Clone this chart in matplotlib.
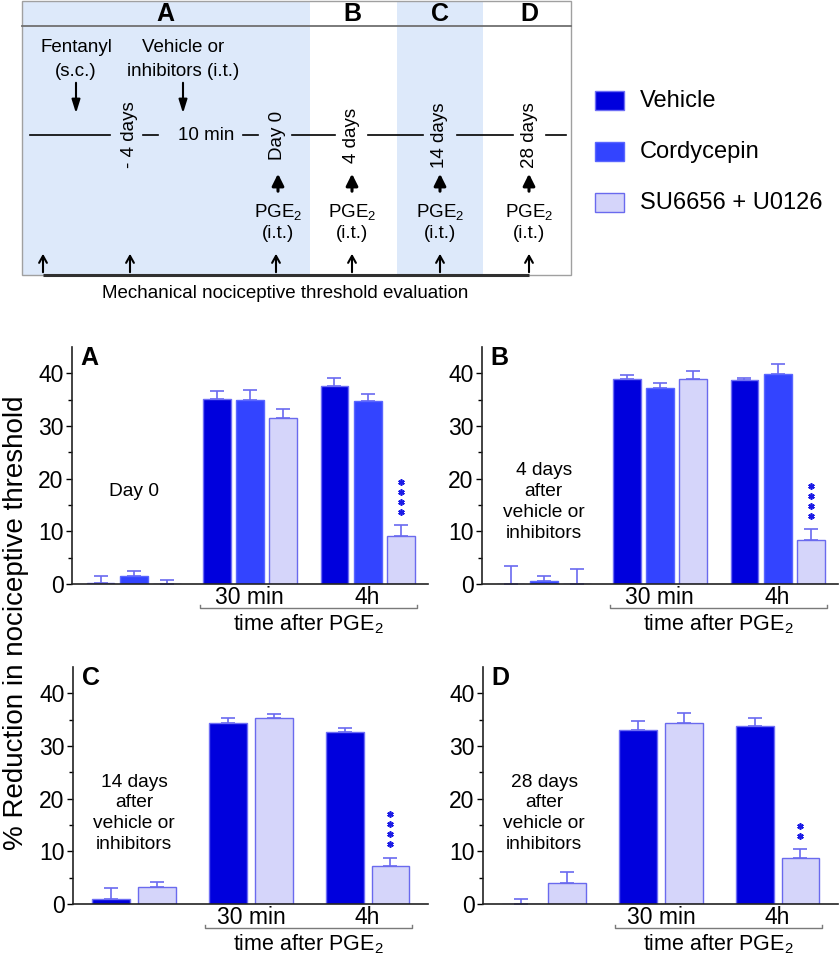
import numpy as np
import matplotlib
matplotlib.use("Agg")
import matplotlib.pyplot as plt
from matplotlib.patches import Rectangle
from matplotlib.transforms import blended_transform_factory

plt.rcParams['font.family'] = ['Liberation Sans', 'DejaVu Sans']
plt.rcParams['mathtext.fontset'] = 'custom'
plt.rcParams['mathtext.rm'] = 'Liberation Sans'
plt.rcParams['mathtext.it'] = 'Liberation Sans:italic'

# treatment groups and styles
treatments = ["Vehicle", "Cordycepin", "SU6656 + U0126"]
fill = {"Vehicle": "#0000dd", "Cordycepin": "#3344ff", "SU6656 + U0126": "#d5d5fa"}
edge = {"Vehicle": "#6e6ef5", "Cordycepin": "#5a66ff", "SU6656 + U0126": "#6a6aee"}
err_color = "#6a6af0"
timepoints = ["baseline", "30 min", "4h"]

# panel A - day 0
A_vehicle = [0.1, 35.2, 37.6]
A_vehicle_err = [1.5, 1.4, 1.6]
A_cordy = [1.5, 34.9, 34.8]
A_cordy_err = [1.0, 2.0, 1.2]
A_su = [0.05, 31.5, 9.2]
A_su_err = [0.65, 1.8, 2.0]

# panel B - 4 days
B_vehicle = [0.0, 39.0, 38.7]
B_vehicle_err = [3.5, 0.6, 0.5]
B_cordy = [0.6, 37.3, 39.8]
B_cordy_err = [0.9, 0.9, 1.9]
B_su = [0.0, 38.9, 8.4]
B_su_err = [2.9, 1.6, 2.1]

# panel C - 14 days
C_vehicle = [0.9, 34.4, 32.7]
C_vehicle_err = [2.1, 0.9, 0.7]
C_su = [3.2, 35.3, 7.3]
C_su_err = [0.9, 0.8, 1.5]

# panel D - 28 days
D_vehicle = [0.0, 33.1, 33.8]
D_vehicle_err = [1.0, 1.6, 1.6]
D_su = [4.0, 34.3, 8.7]
D_su_err = [2.0, 2.0, 1.8]

# number of significance stars over the 4h SU6656 + U0126 bar
stars = {"A": 4, "B": 4, "C": 4, "D": 2}

panels = [
    ("A", {"Vehicle": (A_vehicle, A_vehicle_err), "Cordycepin": (A_cordy, A_cordy_err),
           "SU6656 + U0126": (A_su, A_su_err)}, "Day 0"),
    ("B", {"Vehicle": (B_vehicle, B_vehicle_err), "Cordycepin": (B_cordy, B_cordy_err),
           "SU6656 + U0126": (B_su, B_su_err)}, "4 days\nafter\nvehicle or\ninhibitors"),
    ("C", {"Vehicle": (C_vehicle, C_vehicle_err), "SU6656 + U0126": (C_su, C_su_err)},
     "14 days\nafter\nvehicle or\ninhibitors"),
    ("D", {"Vehicle": (D_vehicle, D_vehicle_err), "SU6656 + U0126": (D_su, D_su_err)},
     "28 days\nafter\nvehicle or\ninhibitors"),
]

W, H = 839, 966
fig = plt.figure(figsize=(W / 100, H / 100), dpi=100)

# ---------- schematic (pixel coordinates) ----------
ax0 = fig.add_axes([0, 0, 1, 1])
ax0.set_xlim(0, W)
ax0.set_ylim(H, 0)
ax0.axis('off')

ax0.add_patch(Rectangle((22, 1), 288, 274, fc='#dde9fa', ec='none'))
ax0.add_patch(Rectangle((397, 1), 86, 274, fc='#dde9fa', ec='none'))
ax0.add_patch(Rectangle((22, 1), 549, 274, fill=False, ec='#a0a0a0', lw=1))
ax0.plot([22, 571], [26, 26], color='#707070', lw=1.3)

fs = 13.5
cols = {"A": 165, "B": 352, "C": 440, "D": 529}
for k, xc in cols.items():
    ax0.text(xc, 14, k, ha='center', va='center', fontsize=18, fontweight='bold')

ax0.text(76, 48, "Fentanyl", ha='center', va='center', fontsize=fs)
ax0.text(76, 72, "(s.c.)", ha='center', va='center', fontsize=fs)
ax0.text(183, 48, "Vehicle or", ha='center', va='center', fontsize=fs)
ax0.text(183, 72, "inhibitors (i.t.)", ha='center', va='center', fontsize=fs)
for xa in [76, 183]:
    ax0.annotate('', xy=(xa, 116), xytext=(xa, 80),
                 arrowprops=dict(arrowstyle='-|>,head_width=0.25,head_length=0.8', lw=1.5, color='k'))

for x0, x1 in [(30, 110), (143, 158), (243, 258), (292, 335), (368, 423), (457, 513), (546, 566)]:
    ax0.plot([x0, x1], [135, 135], color='k', lw=1.2)
ax0.text(206, 135, "10 min", ha='center', va='center', fontsize=fs)
for xc, lab in [(130, "- 4 days"), (278, "Day 0"), (352, "4 days"), (440, "14 days"), (529, "28 days")]:
    ax0.text(xc, 135, lab, ha='center', va='center', rotation=90, fontsize=fs)

for xc in [278, 352, 440, 529]:
    ax0.annotate('', xy=(xc, 171), xytext=(xc, 194),
                 arrowprops=dict(arrowstyle='-|>,head_width=0.35,head_length=0.7', lw=2.2, color='k'))
    ax0.text(xc, 212, "PGE$_2$", ha='center', va='center', fontsize=fs)
    ax0.text(xc, 233, "(i.t.)", ha='center', va='center', fontsize=fs)

for xc in [43, 130, 276, 352, 440, 529]:
    ax0.annotate('', xy=(xc, 251), xytext=(xc, 275),
                 arrowprops=dict(arrowstyle='->,head_width=0.28,head_length=0.5', lw=1.5, color='k'))
ax0.plot([43, 529], [275, 275], color='#303030', lw=2.2, solid_capstyle='butt')
ax0.text(285, 293, "Mechanical nociceptive threshold evaluation", ha='center', va='center', fontsize=fs)

# legend
for i, t in enumerate(treatments):
    yt = 91 + i * 51
    ax0.add_patch(Rectangle((595, yt), 29, 19, fc=fill[t], ec=edge[t], lw=1))
    ax0.text(640, yt + 10, t, ha='left', va='center', fontsize=17)

# ---------- bar panels ----------
pos = {
    "A": [72 / W, 1 - 584 / H, 356 / W, 237 / H],
    "B": [482 / W, 1 - 584 / H, 356 / W, 237 / H],
    "C": [73 / W, 1 - 904 / H, 355 / W, 237 / H],
    "D": [483 / W, 1 - 904 / H, 355 / W, 237 / H],
}

for letter, series, note in panels:
    ax = fig.add_axes(pos[letter])
    ax.patch.set_visible(False)
    n = len(series)
    if n == 3:
        offsets = [0, 3.5, 7.05]
        width = 0.84
        ax.set_xlim(-0.86, 9.87)
        note_x = 1.0
    else:
        offsets = [0, 2.55, 5.1]
        width = 0.83
        ax.set_xlim(-0.84, 6.92)
        note_x = 0.5
    for j, (t, (vals, errs)) in enumerate(series.items()):
        x = np.array(offsets) + j
        ax.bar(x, vals, width=width, color=fill[t], edgecolor=edge[t], linewidth=1, zorder=2)
        ax.errorbar(x, vals, yerr=[np.zeros(len(vals)), errs], fmt='none', ecolor=err_color,
                    elinewidth=1.2, capsize=5, capthick=1.2, zorder=1)
    # significance stars on last bar
    last_vals, last_errs = list(series.values())[-1]
    xs = offsets[-1] + n - 1
    top = last_vals[-1] + last_errs[-1]
    ns = stars[letter]
    ax.plot([xs] * ns, top + 2.5 + 1.9 * np.arange(ns), ls='none', marker=(6, 2, 0),
            ms=4.6, mew=1.2, color='#1a1ae6', clip_on=False)

    ax.set_ylim(0, 45)
    ax.set_yticks([0, 10, 20, 30, 40])
    ax.set_yticks([5, 15, 25, 35], minor=True)
    ax.set_xticks([])
    ax.tick_params(axis='y', which='major', labelsize=16.5, length=4, width=1, pad=2)
    ax.tick_params(axis='y', which='minor', length=3, width=1)
    for s in ['top', 'right']:
        ax.spines[s].set_visible(False)
    for s in ['left', 'bottom']:
        ax.spines[s].set_linewidth(1.2)
        ax.spines[s].set_color('#222222')

    ax.text(0.024, 0.955, letter, transform=ax.transAxes, ha='left', va='center',
            fontsize=18, fontweight='bold')
    ax.text(note_x, 17.2 if n == 2 else (17.5 if letter == "A" else 15.6), note,
            ha='center', va='center', fontsize=13.8, linespacing=1.3)

    # time labels and bracket
    tr = blended_transform_factory(ax.transData, ax.transAxes)
    for g in [1, 2]:
        ax.text(offsets[g] + (n - 1) / 2, -0.055, timepoints[g], transform=tr,
                ha='center', va='center', fontsize=16.5)
    bx0 = offsets[1] - width / 2 - 0.08
    bx1 = offsets[2] + n - 1 + width / 2 + 0.06
    ax.plot([bx0, bx0, bx1, bx1], [-0.088, -0.1, -0.1, -0.088], transform=tr,
            color='#7a7a7a', lw=1, clip_on=False)
    ax.text((bx0 + bx1) / 2, -0.168, "time after PGE$_2$", transform=tr,
            ha='center', va='center', fontsize=15.5)

fig.text(16 / W, 1 - 623 / H, "% Reduction in nociceptive threshold", rotation=90,
         ha='center', va='center', fontsize=20)

fig.savefig("out.png", dpi=100)
